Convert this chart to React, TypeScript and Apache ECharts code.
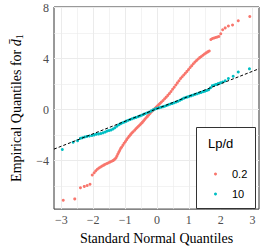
import React, { useEffect, useRef } from "react";
import * as echarts from "echarts";

// Legend categories (Lp/d)
const groupNames = ["0.2", "10"];
const groupColors = ["#F8766D", "#00BFC4"];

// Lp/d = 0.2 : [theoretical quantile, empirical quantile]
const pointsLow: number[][] = [
  [-2.94, -7.1], [-2.58, -7.0], [-2.4, -6.12], [-2.28, -6.02], [-2.19, -5.95], [-2.1, -5.85],
  [-2.03, -5.12], [-1.97, -4.95], [-1.92, -4.8], [-1.87, -4.68], [-1.82, -4.58], [-1.77, -4.5],
  [-1.72, -4.42], [-1.67, -4.35], [-1.62, -4.28], [-1.57, -4.22], [-1.52, -4.16], [-1.47, -4.1],
  [-1.42, -4.05], [-1.37, -3.98], [-1.33, -3.9], [-1.29, -3.8], [-1.26, -3.65], [-1.23, -3.5],
  [-1.2, -3.35], [-1.17, -3.2], [-1.14, -3.05], [-1.11, -2.95], [-1.07, -2.8], [-1.03, -2.64],
  [-0.99, -2.5], [-0.95, -2.35], [-0.91, -2.2], [-0.87, -2.08], [-0.83, -1.96], [-0.79, -1.84],
  [-0.75, -1.74], [-0.7, -1.62], [-0.66, -1.5], [-0.62, -1.4], [-0.58, -1.3], [-0.54, -1.2],
  [-0.5, -1.1], [-0.46, -1.0], [-0.42, -0.88], [-0.38, -0.76], [-0.34, -0.64], [-0.3, -0.53],
  [-0.26, -0.42], [-0.22, -0.3], [-0.18, -0.19], [-0.14, -0.08], [-0.1, 0.0], [-0.06, 0.1],
  [-0.02, 0.2], [0.02, 0.3], [0.06, 0.4], [0.1, 0.5], [0.14, 0.6], [0.19, 0.72], [0.24, 0.85],
  [0.29, 0.98], [0.34, 1.12], [0.39, 1.27], [0.44, 1.42], [0.49, 1.6], [0.54, 1.76], [0.59, 1.93],
  [0.64, 2.1], [0.69, 2.27], [0.74, 2.44], [0.79, 2.58], [0.84, 2.72], [0.89, 2.86], [0.94, 3.0],
  [0.99, 3.15], [1.04, 3.3], [1.09, 3.45], [1.14, 3.6], [1.19, 3.73], [1.24, 3.86], [1.29, 3.97],
  [1.34, 4.08], [1.39, 4.17], [1.44, 4.27], [1.49, 4.36], [1.54, 4.45], [1.59, 4.53], [1.64, 4.6],
  [1.69, 5.5], [1.74, 5.58], [1.79, 5.62], [1.84, 5.66], [1.89, 5.7], [1.94, 5.74], [2.0, 5.95],
  [2.06, 6.26], [2.14, 6.41], [2.24, 6.56], [2.37, 6.64], [2.55, 6.97], [2.91, 7.3],
];

// Lp/d = 10 : [theoretical quantile, empirical quantile]
const pointsHigh: number[][] = [
  [-2.97, -3.13], [-2.63, -2.56], [-2.49, -2.43], [-2.4, -2.25], [-2.34, -2.2], [-2.27, -2.14],
  [-2.2, -2.1], [-2.12, -2.07], [-2.04, -2.03], [-1.97, -1.98], [-1.9, -1.93], [-1.83, -1.9],
  [-1.76, -1.87], [-1.69, -1.82], [-1.62, -1.75], [-1.56, -1.68], [-1.5, -1.64], [-1.44, -1.6],
  [-1.38, -1.52], [-1.32, -1.42], [-1.26, -1.3], [-1.2, -1.18], [-1.14, -1.1], [-1.08, -1.03],
  [-1.02, -0.97], [-0.96, -0.9], [-0.9, -0.83], [-0.84, -0.77], [-0.78, -0.72], [-0.72, -0.66],
  [-0.66, -0.61], [-0.6, -0.56], [-0.54, -0.5], [-0.48, -0.44], [-0.42, -0.37], [-0.36, -0.3],
  [-0.3, -0.24], [-0.24, -0.18], [-0.18, -0.1], [-0.12, -0.02], [-0.06, 0.05], [0.0, 0.1],
  [0.06, 0.14], [0.12, 0.18], [0.18, 0.22], [0.24, 0.27], [0.3, 0.32], [0.36, 0.38], [0.42, 0.44],
  [0.48, 0.49], [0.54, 0.54], [0.6, 0.6], [0.66, 0.66], [0.72, 0.74], [0.78, 0.82], [0.84, 0.9],
  [0.9, 0.95], [0.96, 1.0], [1.02, 1.05], [1.08, 1.1], [1.14, 1.15], [1.2, 1.2], [1.26, 1.25],
  [1.32, 1.3], [1.38, 1.35], [1.44, 1.41], [1.5, 1.45], [1.56, 1.5], [1.62, 1.56], [1.68, 1.72],
  [1.74, 1.88], [1.8, 1.93], [1.86, 1.98], [1.92, 2.04], [1.99, 2.1], [2.06, 2.17], [2.14, 2.26],
  [2.24, 2.44], [2.39, 2.62], [2.55, 2.95], [2.9, 3.2],
];

// Reference line (intercept, slope)
const refIntercept = 0.07;
const refSlope = 0.98;

// Axis ticks
const xTicks = [-3, -2, -1, 0, 1, 2, 3];
const xMinorTicks = [-2.5, -1.5, -0.5, 0.5, 1.5, 2.5];
const yTicks = [-4, 0, 4, 8];
const yMinorTicks = [-6, -2, 2, 6];

const X_MIN = -3.23;
const X_MAX = 3.2;
const Y_MIN = -7.8;
const Y_MAX = 8.05;

const SERIF = "Liberation Serif, Times New Roman, serif";
const SANS = "Liberation Sans, Arial, sans-serif";

const fmt = (v: number) => String(v).replace("-", "\u2212");

export default function App() {
  const ref = useRef<HTMLDivElement>(null);

  useEffect(() => {
    if (!ref.current) return;
    const chart = echarts.init(ref.current, undefined, { renderer: "svg" });

    const gridLines: any[] = [];
    xTicks.forEach((v) => gridLines.push({ xAxis: v, lineStyle: { color: "#EBEBEB", width: 1, type: "solid" } }));
    xMinorTicks.forEach((v) => gridLines.push({ xAxis: v, lineStyle: { color: "#EBEBEB", width: 0.6, type: "solid" } }));
    yTicks.forEach((v) => gridLines.push({ yAxis: v, lineStyle: { color: "#EBEBEB", width: 1, type: "solid" } }));
    yMinorTicks.forEach((v) => gridLines.push({ yAxis: v, lineStyle: { color: "#EBEBEB", width: 0.6, type: "solid" } }));

    chart.setOption({
      animation: false,
      backgroundColor: "#ffffff",
      grid: {
        left: 44,
        top: 7,
        right: 8,
        bottom: 37,
        show: true,
        borderColor: "#333333",
        borderWidth: 1,
        backgroundColor: "#ffffff",
      },
      xAxis: {
        type: "value",
        min: X_MIN,
        max: X_MAX,
        axisLine: { show: false },
        splitLine: { show: false },
        axisTick: { show: true, length: 3, lineStyle: { color: "#333333" }, customValues: xTicks },
        axisLabel: {
          customValues: xTicks,
          formatter: fmt,
          margin: 5,
          fontFamily: SERIF,
          fontSize: 12,
          color: "#4D4D4D",
        },
        name: "Standard Normal Quantiles",
        nameLocation: "middle",
        nameGap: 20,
        nameTextStyle: { fontFamily: SERIF, fontSize: 14, color: "#000000" },
      },
      yAxis: {
        type: "value",
        min: Y_MIN,
        max: Y_MAX,
        axisLine: { show: false },
        splitLine: { show: false },
        axisTick: { show: true, length: 3, lineStyle: { color: "#333333" }, customValues: yTicks },
        axisLabel: {
          customValues: yTicks,
          formatter: fmt,
          margin: 5,
          fontFamily: SERIF,
          fontSize: 12,
          color: "#4D4D4D",
        },
        name: "Empirical Quantiles for {d|d\u0304}{s|1}",
        nameLocation: "middle",
        nameRotate: 90,
        nameGap: 30,
        nameTextStyle: {
          fontFamily: SERIF,
          fontSize: 14,
          color: "#000000",
          lineHeight: 16,
          rich: {
            d: { fontFamily: SERIF, fontSize: 14, fontStyle: "italic", color: "#000000", lineHeight: 16 },
            s: { fontFamily: SERIF, fontSize: 10, color: "#000000", verticalAlign: "bottom", lineHeight: 16, padding: [6, 0, 0, 0] },
          },
        },
      },
      legend: {
        data: groupNames,
        orient: "vertical",
        left: 209,
        top: 162,
        itemWidth: 17,
        itemHeight: 3,
        itemGap: 6,
        icon: "circle",
        selectedMode: false,
        z: 20,
        textStyle: { fontFamily: SANS, fontSize: 11, color: "#000000", lineHeight: 14, padding: [0, 0, 0, 3] },
      },
      graphic: [
        {
          type: "rect",
          z: 15,
          shape: { x: 196.5, y: 127.5, width: 59, height: 81 },
          style: { fill: "#ffffff", stroke: "#333333", lineWidth: 1 },
          silent: true,
        },
        {
          type: "text",
          z: 16,
          x: 208,
          y: 143,
          style: { text: "Lp/d", fontFamily: SANS, fontSize: 13, fill: "#000000", verticalAlign: "middle", align: "left" },
          silent: true,
        },
      ],
      series: [
        {
          type: "scatter",
          name: groupNames[0],
          data: pointsLow,
          symbolSize: 3,
          itemStyle: { color: groupColors[0], opacity: 1 },
          z: 3,
          silent: true,
        },
        {
          type: "scatter",
          name: groupNames[1],
          data: pointsHigh,
          symbolSize: 3,
          itemStyle: { color: groupColors[1], opacity: 1 },
          z: 4,
          silent: true,
        },
        {
          type: "line",
          name: "reference",
          data: [
            [X_MIN, refIntercept + refSlope * X_MIN],
            [X_MAX, refIntercept + refSlope * X_MAX],
          ],
          showSymbol: false,
          symbol: "none",
          lineStyle: { color: "#000000", width: 1, type: [3, 2] },
          z: 5,
          silent: true,
          markLine: {
            silent: true,
            symbol: "none",
            z: 1,
            label: { show: false },
            emphasis: { disabled: true },
            data: gridLines,
          },
        },
      ],
    });

    return () => chart.dispose();
  }, []);

  return (
    <div
      ref={ref}
      style={{ position: "fixed", left: 0, top: 0, width: 267, height: 250, background: "#fff" }}
    />
  );
}
